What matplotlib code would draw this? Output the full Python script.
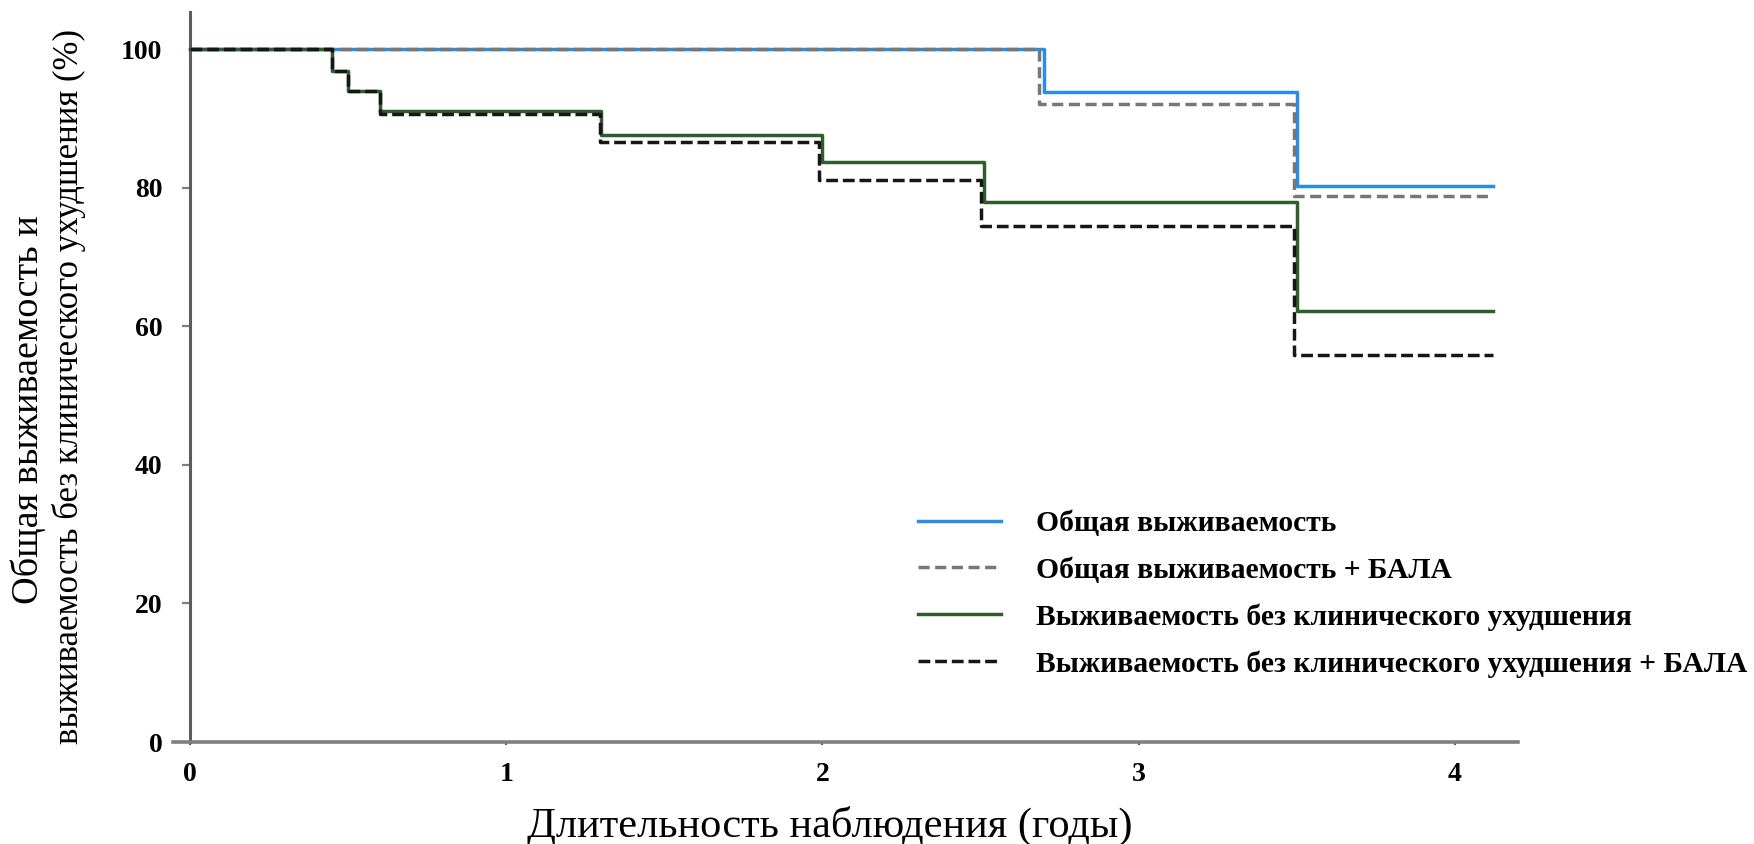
import matplotlib
matplotlib.use('Agg')
import matplotlib.pyplot as plt

plt.rcParams['font.family'] = ['Liberation Serif', 'DejaVu Serif']

# Kaplan-Meier steps: times in years, survival in %
os_times = [0, 2.70, 3.50, 4.12]
os_values = [100, 93.9, 80.3, 80.3]

os_bala_times = [0, 2.685, 3.49, 4.12]
os_bala_values = [100, 92.1, 78.8, 78.8]

pfs_times = [0, 0.45, 0.50, 0.60, 1.30, 2.00, 2.51, 3.50, 4.12]
pfs_values = [100, 96.9, 94.0, 91.1, 87.7, 83.7, 77.9, 62.3, 62.3]

pfs_bala_times = [0, 0.45, 0.50, 0.60, 1.295, 1.99, 2.50, 3.49, 4.12]
pfs_bala_values = [100, 96.9, 94.0, 90.7, 86.6, 81.2, 74.5, 55.9, 55.9]

labels = ['Общая выживаемость',
          'Общая выживаемость + БАЛА',
          'Выживаемость без клинического ухудшения',
          'Выживаемость без клинического ухудшения + БАЛА']

x_ticks = [0, 1, 2, 3, 4]
y_ticks = [0, 20, 40, 60, 80, 100]

fig = plt.figure(figsize=(17.54, 8.44), dpi=100)
ax = fig.add_axes([173 / 1754, 1 - 742 / 844, (1518 - 173) / 1754, (742 - 12) / 844])

l1, = ax.step(os_times, os_values, where='post', color='#2a8de4', lw=2.5, zorder=3)
l3, = ax.step(pfs_times, pfs_values, where='post', color='#2f5e2c', lw=2.5, zorder=3)
l2, = ax.step(os_bala_times, os_bala_values, where='post', color='#777777', lw=2.5,
              dashes=(3.2, 1.6), zorder=4)
l4, = ax.step(pfs_bala_times, pfs_bala_values, where='post', color='#161616', lw=2.5,
              dashes=(3.4, 1.4), zorder=4)

ax.set_xlim(-0.054, 4.2)
ax.set_ylim(0, 105.4)

for side in ['top', 'right']:
    ax.spines[side].set_visible(False)
ax.spines['left'].set_position(('data', 0))
ax.spines['left'].set_color('#5c5c5c')
ax.spines['left'].set_linewidth(2.2)
ax.spines['bottom'].set_color('#7f7f7f')
ax.spines['bottom'].set_linewidth(2.6)

ax.set_xticks(x_ticks)
ax.set_xticklabels([str(t) for t in x_ticks])
ax.set_yticks(y_ticks)
ax.set_yticklabels([str(t) for t in y_ticks])
ax.tick_params(axis='x', direction='out', length=2.5, width=1.5, color='#555555',
               pad=12, labelsize=20)
ax.tick_params(axis='y', direction='out', length=6, width=1.6, color='#7f7f7f',
               pad=14, labelsize=20)
for lab in ax.get_xticklabels() + ax.get_yticklabels():
    lab.set_fontweight('bold')
ax.yaxis.get_major_ticks()[-1].tick1line.set_visible(False)
ax.yaxis.get_major_ticks()[0].tick1line.set_visible(False)

# axis titles
fig.text(830 / 1754, 1 - 826 / 844, 'Длительность наблюдения (годы)',
         ha='center', va='center', fontsize=30.5)
fig.text(28 / 1754, 1 - 410 / 844, 'Общая выживаемость и',
         ha='center', va='center', rotation=90, fontsize=27.5)
fig.text(69 / 1754, 1 - 386 / 844, 'выживаемость без клинического ухудшения (%)',
         ha='center', va='center', rotation=90, fontsize=25)

leg = ax.legend([l1, l2, l3, l4], labels, loc='upper left',
                bbox_to_anchor=(918 / 1754, 1 - 510 / 844),
                bbox_transform=fig.transFigure, frameon=False,
                prop={'weight': 'bold', 'size': 21.3}, handlelength=2.8,
                handletextpad=1.2, labelspacing=0.66, borderpad=0,
                borderaxespad=0)

fig.savefig('out.png', dpi=100, facecolor='white')
